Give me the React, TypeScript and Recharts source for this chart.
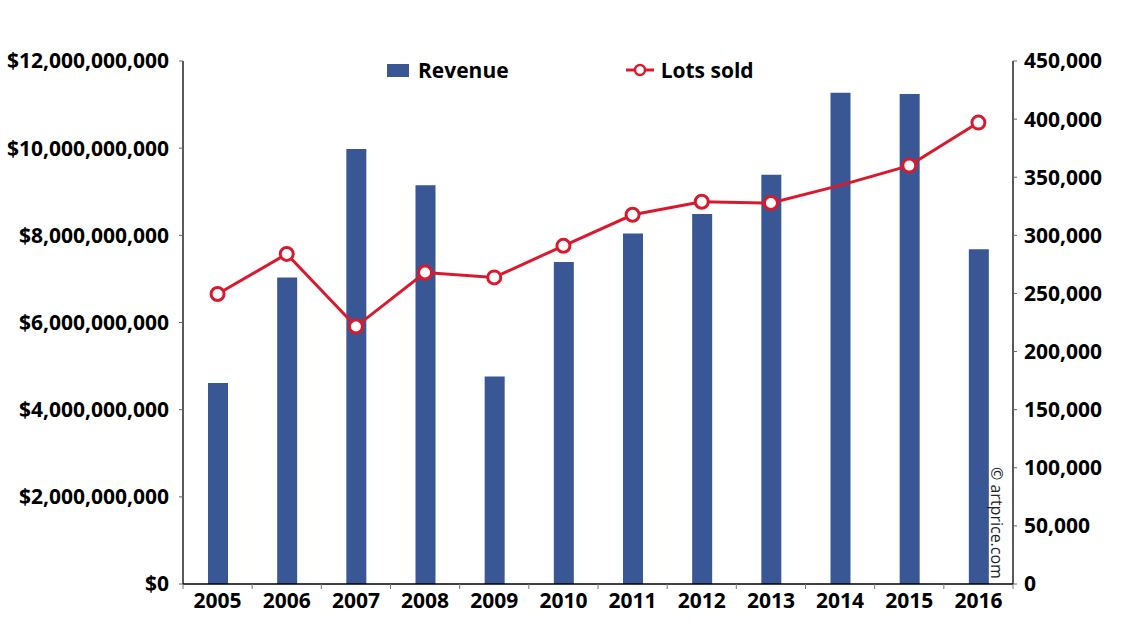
import {
  ComposedChart, Bar, Line, XAxis, YAxis
} from 'recharts'

const years = ['2005', '2006', '2007', '2008', '2009', '2010', '2011', '2012', '2013', '2014', '2015', '2016']
const revenue = [4.61e9, 7.03e9, 9.98e9, 9.15e9, 4.76e9, 7.39e9, 8.04e9, 8.49e9, 9.39e9, 11.27e9, 11.24e9, 7.68e9]
const lotsSold = [249500, 284000, 221500, 268000, 263800, 291000, 317700, 328900, 327800, 343000, 360000, 397000]
const revenueTicks = [0, 2e9, 4e9, 6e9, 8e9, 10e9, 12e9]
const lotsTicks = [0, 50000, 100000, 150000, 200000, 250000, 300000, 350000, 400000, 450000]
// 2014 has no marker in the original
const hiddenMarkers = ['2014']

const W = 1140
const H = 636
const LEFT_W = 183
const RIGHT_W = 127
const TOP = 61
const XAXIS_H = 52
const AXIS_Y = H - XAXIS_H
const BAND = (W - LEFT_W - RIGHT_W) / years.length

const FONT = '"Open Sans", "Noto Sans", sans-serif'
const BLUE = '#3a5795'
const RED = '#d91a2e'

const data = years.map((y, i) => ({ year: y, Revenue: revenue[i], 'Lots sold': lotsSold[i] }))

const tickStyle = { fill: '#000', fontSize: 21, fontWeight: 700, fontFamily: FONT }

function YearTick(props: any) {
  const { x, payload, index } = props
  return (
    <g>
      <line x1={x - BAND / 2} x2={x - BAND / 2} y1={AXIS_Y} y2={AXIS_Y + 5} stroke="#777" />
      {index === years.length - 1 && (
        <line x1={x + BAND / 2} x2={x + BAND / 2} y1={AXIS_Y} y2={AXIS_Y + 5} stroke="#777" />
      )}
      <text x={x} y={AXIS_Y + 9} dy="0.71em" textAnchor="middle" {...tickStyle}>
        {payload.value}
      </text>
    </g>
  )
}

function LotsDot(props: any) {
  const { cx, cy, payload } = props
  if (hiddenMarkers.includes(payload.year)) return <g />
  return <circle cx={cx} cy={cy} r={6.5} fill="#fff" stroke={RED} strokeWidth={3} />
}

function ChartLegend() {
  const txt = { fontFamily: FONT, fontSize: 21, fontWeight: 700, color: '#000', lineHeight: '22px' }
  return (
    <div style={{ position: 'absolute', top: 59, left: 387, display: 'flex', alignItems: 'center' }}>
      <span style={{ width: 22, height: 13, background: BLUE, display: 'inline-block' }} />
      <span style={{ ...txt, marginLeft: 9 }}>Revenue</span>
      <svg width={28} height={14} style={{ marginLeft: 117 }}>
        <line x1={0} x2={28} y1={7} y2={7} stroke={RED} strokeWidth={3} />
        <circle cx={14} cy={7} r={5} fill="#fff" stroke={RED} strokeWidth={2.5} />
      </svg>
      <span style={{ ...txt, marginLeft: 7 }}>Lots sold</span>
    </div>
  )
}

export default function App() {
  return (
    <div style={{ position: 'absolute', left: 0, top: 0, width: W, height: H, background: '#fff' }}>
      <ComposedChart width={W} height={H} data={data}
                     margin={{ top: TOP, right: 0, left: 0, bottom: 0 }}>
        <XAxis dataKey="year" height={XAXIS_H} tickLine={false}
               axisLine={{ stroke: '#000', strokeWidth: 1.3 }}
               tick={<YearTick />} interval={0} />
        <YAxis yAxisId="rev" orientation="left" width={LEFT_W}
               domain={[0, 12e9]} ticks={revenueTicks}
               tickFormatter={(v: number) => `$${v.toLocaleString('en-US')}`}
               tick={tickStyle} tickSize={4} tickMargin={10}
               tickLine={{ stroke: '#666' }}
               axisLine={{ stroke: '#000', strokeWidth: 1.3 }} />
        <YAxis yAxisId="lots" orientation="right" width={RIGHT_W}
               domain={[0, 450000]} ticks={lotsTicks}
               tickFormatter={(v: number) => v.toLocaleString('en-US')}
               tick={{ ...tickStyle, textAnchor: 'start' }} tickSize={4} tickMargin={7}
               tickLine={{ stroke: '#666' }}
               axisLine={{ stroke: '#000', strokeWidth: 1.3 }} />
        <Bar yAxisId="rev" dataKey="Revenue" fill={BLUE} barSize={20}
             isAnimationActive={false} />
        <Line yAxisId="lots" dataKey="Lots sold" type="linear" stroke={RED}
              strokeWidth={3} dot={<LotsDot />} activeDot={false}
              isAnimationActive={false} />
      </ComposedChart>
      <ChartLegend />
      <div style={{
        position: 'absolute', left: 1006, top: 467, transform: 'rotate(90deg)',
        transformOrigin: 'left top', whiteSpace: 'nowrap',
        fontFamily: FONT, fontSize: 16, color: '#222', lineHeight: '18px'
      }}>
        © artprice.com
      </div>
    </div>
  )
}
